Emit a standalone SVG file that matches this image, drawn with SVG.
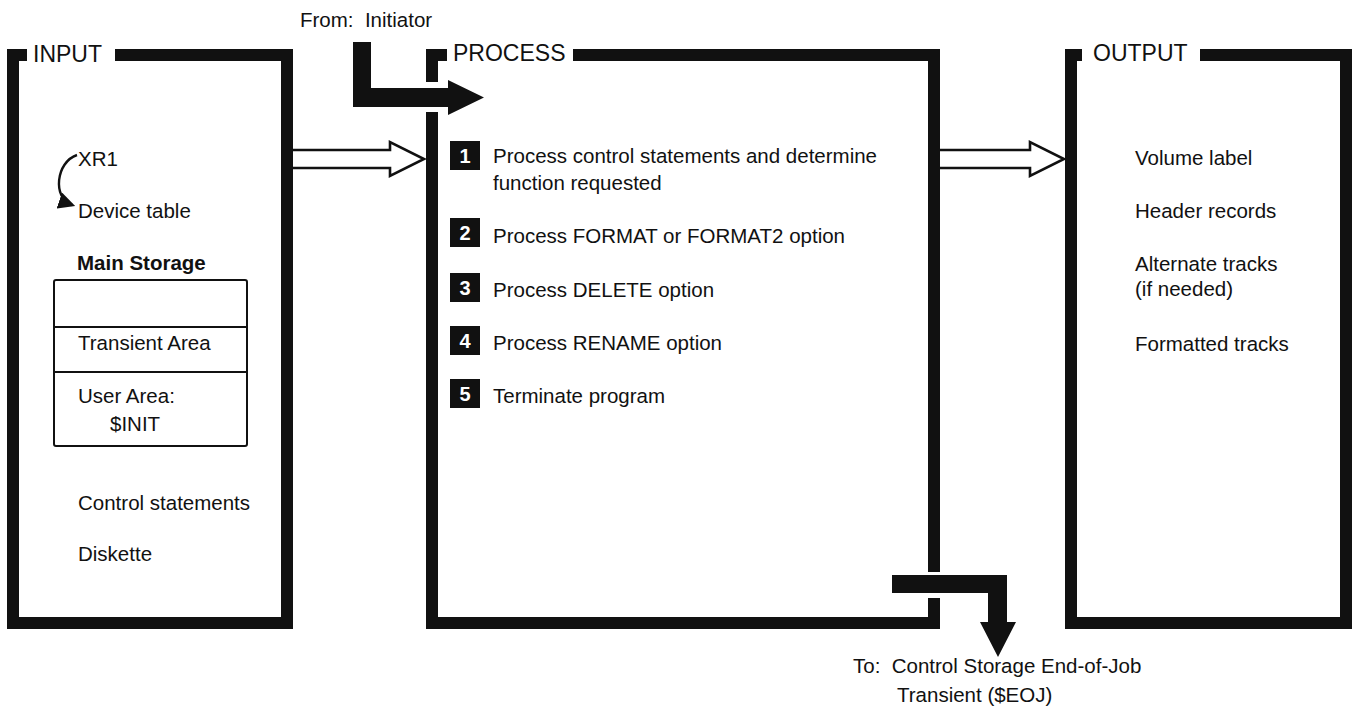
<svg xmlns="http://www.w3.org/2000/svg" width="1354" height="706" viewBox="0 0 1354 706">
  <style>
    text { font-family: "Liberation Sans", Arial, sans-serif; font-size: 20.5px; fill: #111; white-space: pre; }
    .lbl { font-size: 23px; }
    .bold { font-weight: bold; }
    .frame { fill: none; stroke: #111; stroke-width: 12; stroke-linejoin: miter; stroke-linecap: butt; }
    .open { fill: #fff; stroke: #111; stroke-width: 2.6; stroke-linejoin: miter; }
    .solid { fill: #111; stroke: none; }
    .num { fill: #111; }
    .numt { fill: #fff; font-weight: bold; font-size: 20px; text-anchor: middle; }
    .thin { fill: none; stroke: #111; stroke-width: 2; }
  </style>
  <defs>
    <marker id="curlHead" viewBox="0 0 10 10" refX="8" refY="5" markerWidth="7" markerHeight="7" orient="auto">
      <path d="M0 0 L10 5 L0 10 Z" fill="#111"/>
    </marker>
  </defs>

  <rect width="1354" height="706" fill="#fff"/>

  <!-- INPUT panel -->
  <g id="input">
    <path class="frame" d="M27 55 H13 V623 H287 V55 H115"/>
    <text class="lbl" x="33" y="62">INPUT</text>
    <text x="78" y="166">XR1</text>
    <path d="M77 155 C56 162, 52 198, 72 205" fill="none" stroke="#111" stroke-width="2.4" marker-end="url(#curlHead)"/>
    <text x="78" y="218">Device table</text>
    <text class="bold" x="77" y="270">Main Storage</text>
    <g id="main-storage">
      <rect class="thin" x="54" y="280" width="193" height="166" rx="2"/>
      <line class="thin" x1="54" y1="327" x2="247" y2="327"/>
      <line class="thin" x1="54" y1="372" x2="247" y2="372"/>
      <text x="78" y="350">Transient Area</text>
      <text x="78" y="403">User Area:</text>
      <text x="110" y="431">$INIT</text>
    </g>
    <text x="78" y="510">Control statements</text>
    <text x="78" y="561">Diskette</text>
  </g>

  <!-- PROCESS panel -->
  <g id="process">
    <path class="frame" d="M447 55 H432 V82"/>
    <path class="frame" d="M432 112 V623 H934 V598"/>
    <path class="frame" d="M573 55 H934 V572"/>
    <text class="lbl" x="453" y="61">PROCESS</text>

    <g id="step1">
      <rect class="num" x="450" y="141" width="30" height="29"/>
      <text class="numt" x="465" y="163">1</text>
      <text x="493" y="163">Process control statements and determine</text>
      <text x="493" y="190">function requested</text>
    </g>
    <g id="step2">
      <rect class="num" x="450" y="218" width="30" height="29"/>
      <text class="numt" x="465" y="240">2</text>
      <text x="493" y="243">Process FORMAT or FORMAT2 option</text>
    </g>
    <g id="step3">
      <rect class="num" x="450" y="273" width="30" height="29"/>
      <text class="numt" x="465" y="295">3</text>
      <text x="493" y="297">Process DELETE option</text>
    </g>
    <g id="step4">
      <rect class="num" x="450" y="326" width="30" height="29"/>
      <text class="numt" x="465" y="348">4</text>
      <text x="493" y="350">Process RENAME option</text>
    </g>
    <g id="step5">
      <rect class="num" x="450" y="379" width="30" height="29"/>
      <text class="numt" x="465" y="401">5</text>
      <text x="493" y="403">Terminate program</text>
    </g>
  </g>

  <!-- OUTPUT panel -->
  <g id="output">
    <path class="frame" d="M1082 55 H1071 V623 H1346 V55 H1200"/>
    <text class="lbl" x="1093" y="61">OUTPUT</text>
    <text x="1135" y="165">Volume label</text>
    <text x="1135" y="218">Header records</text>
    <text x="1135" y="271">Alternate tracks</text>
    <text x="1135" y="296">(if needed)</text>
    <text x="1135" y="351">Formatted tracks</text>
  </g>

  <!-- external sources / destinations -->
  <g id="initiator">
    <text x="300" y="27">From:  Initiator</text>
  </g>
  <g id="eoj">
    <text x="853" y="673">To:  Control Storage End-of-Job</text>
    <text x="897" y="702">Transient ($EOJ)</text>
  </g>

  <!-- connectors -->
  <g id="connectors">
    <path class="solid" d="M353 42 H371 V88 H448 V80 L484 97.5 L448 115 V107 H353 Z"/>
    <path class="open" d="M293 150 H390 V142 L424 159 L390 176 V168 H293"/>
    <path class="open" d="M940 150 H1030 V142 L1064 159 L1030 176 V168 H940"/>
    <path class="solid" d="M892 575 H1007 V622 H1016 L998 657 L980 622 H988 V593 H892 Z"/>
  </g>
</svg>
